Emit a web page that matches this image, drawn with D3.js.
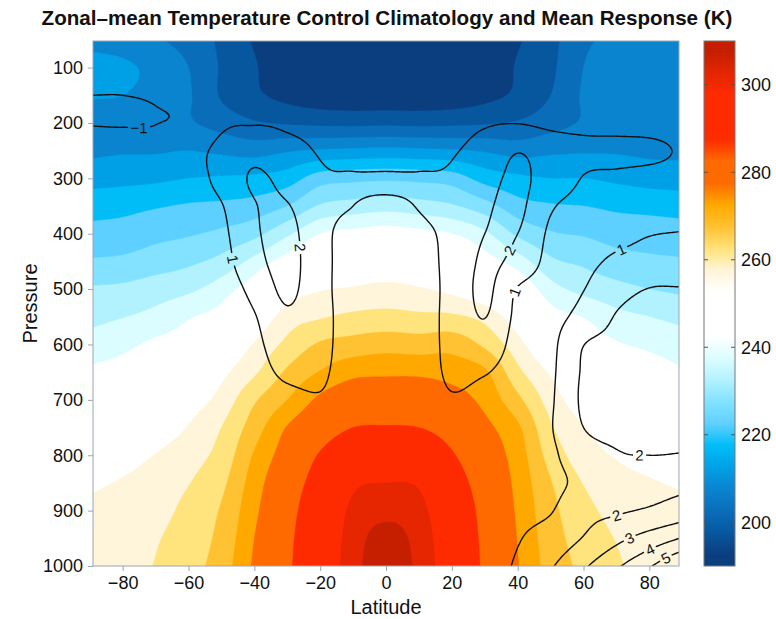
<!DOCTYPE html>
<html>
<head>
<meta charset="utf-8">
<script src="https://cdn.jsdelivr.net/npm/d3@7"></script>
<style>
  body { margin: 0; background: #fff; }
  text { font-family: "Liberation Sans", Arial, Helvetica, sans-serif; fill: #111; }
</style>
</head>
<body>
<svg id="chart" width="776" height="619"></svg>
<script>
// ---------------------------------------------------------------
// Grid coordinates of the zonal-mean fields
// ---------------------------------------------------------------
const latitudes = [-90, -80, -70, -60, -50, -40, -30, -20, -10, 0, 10, 20, 30, 40, 50, 60, 70, 80, 90];
const pressureLevels = [50, 100, 150, 200, 250, 300, 350, 400, 450, 500, 550, 600, 650, 700, 750, 800, 850, 900, 950, 1000];

// Control climatology temperature (K); one column per latitude, top (50 hPa) to bottom (1000 hPa)
const temperatureByLatitude = [
  [207.5, 212.5, 210.5, 207, 209, 213, 218, 221.5, 225.5, 230.5, 233.5, 237, 241, 244, 247.5, 251, 254, 256, 257, 257.5],
  [207, 211, 210, 207, 209.5, 213.5, 218.5, 222, 226, 231, 234.8, 238.8, 242, 245.5, 249, 252.5, 255.5, 257, 258, 258.5],
  [205.5, 208.5, 208, 206.5, 209.5, 214, 219.5, 223.5, 227.5, 232.5, 236.5, 241, 244, 247.5, 251.5, 255.2, 257.5, 258.5, 259.6, 260.2],
  [203, 205, 205.5, 205.5, 210, 215, 220.5, 224.5, 229, 234, 239.5, 243, 247, 252, 255.3, 258, 259.8, 261.3, 262.3, 263],
  [199, 199.5, 199.5, 203, 209, 215.5, 221, 226, 231.5, 237.5, 242.5, 249, 253.5, 256.8, 260, 261.8, 263.8, 265.5, 266.5, 267.5],
  [194.5, 195.5, 196, 200.5, 208, 216, 222, 228.5, 236.5, 243.5, 250, 255.4, 259.2, 264.3, 267.5, 270.5, 272.5, 273.8, 275, 275.8],
  [192.5, 191, 193.5, 199.5, 209.5, 217.5, 225, 234, 242.5, 251.5, 257.3, 261.3, 265.8, 270, 275.3, 278, 280.5, 282, 283, 283.5],
  [191.5, 190, 192, 199, 210.5, 222.5, 230.5, 240, 247.5, 254.5, 259.5, 265.6, 270.3, 276.2, 280.5, 285.7, 289, 291.5, 293, 294],
  [191, 189.5, 191.5, 198.8, 211, 223.5, 232, 241.5, 249, 255.5, 261, 267, 273.5, 279.5, 285, 292.5, 298.5, 301.5, 302.8, 303.2],
  [191, 189.5, 191.5, 199, 211.5, 224, 233, 242.5, 250, 256.5, 261.5, 268, 274, 280, 285.5, 293, 300, 303.8, 306.3, 307.5],
  [191, 189.5, 191.5, 198.8, 211, 223.5, 232, 241.5, 249, 255.5, 261, 267.5, 274, 279.5, 285, 292.5, 299, 302, 303.3, 303.8],
  [191.5, 190, 192, 199, 210.5, 222.5, 230.5, 240, 247.5, 253.5, 260.8, 268, 273, 277.3, 281.5, 285.8, 289.5, 292.5, 294.2, 295],
  [192.5, 191, 193.5, 199.5, 209.5, 218, 227, 236, 242.5, 250, 258.3, 264, 270.8, 273.5, 276.5, 279, 281, 282.3, 283, 283.5],
  [194.5, 195.5, 196, 200.5, 208, 216, 222, 229, 237.5, 245, 251.5, 256.8, 261.3, 266.2, 270.8, 272.5, 273.5, 274.2, 274.8, 275.2],
  [198.5, 199, 200, 203, 209, 215, 220.5, 225.5, 231, 237, 242.5, 248.5, 254.3, 257.8, 260.6, 263, 265.3, 266.5, 267.3, 268],
  [204, 205, 205.5, 205.5, 209.5, 215, 220, 224.5, 229, 233.5, 239.8, 243.5, 247.5, 251.5, 255.3, 257.5, 259.8, 261.5, 262.8, 263.8],
  [206, 207.5, 207.5, 207, 209.5, 214, 219, 223, 227, 231.5, 236.5, 240.5, 244.5, 248, 251.5, 254.5, 257, 258.5, 259.8, 260.5],
  [207, 208, 208, 207.5, 209, 213, 218.5, 222.5, 226, 230, 235, 239, 242.5, 245.5, 249, 252.5, 255.5, 257, 258.3, 259],
  [207.5, 208, 208, 208, 209, 212.5, 218, 222, 225.5, 229, 233.5, 237.5, 240.5, 244, 247.5, 251, 254.3, 256, 257, 258]
];

// Mean temperature response (K); same layout as the climatology
const responseByLatitude = [
  [-0.2, -0.5, -1.0, -1.03, -0.55, -0.2, 0.0, 0.15, 0.25, 0.3, 0.35, 0.4, 0.4, 0.4, 0.4, 0.45, 0.5, 0.5, 0.5, 0.5],
  [-0.2, -0.5, -1.0, -1.05, -0.55, -0.15, 0.05, 0.2, 0.3, 0.35, 0.4, 0.4, 0.4, 0.4, 0.4, 0.45, 0.5, 0.5, 0.5, 0.5],
  [-0.2, -0.45, -0.9, -1.02, -0.45, 0.0, 0.2, 0.3, 0.35, 0.4, 0.4, 0.4, 0.4, 0.4, 0.4, 0.45, 0.5, 0.5, 0.5, 0.5],
  [-0.1, -0.3, -0.6, -0.7, 0.35, 0.5, 0.45, 0.5, 0.5, 0.5, 0.5, 0.5, 0.5, 0.5, 0.5, 0.5, 0.5, 0.5, 0.5, 0.5],
  [0.0, 0.1, 0.3, 0.75, 1.35, 1.3, 0.95, 0.8, 0.7, 0.6, 0.6, 0.55, 0.5, 0.5, 0.5, 0.5, 0.5, 0.5, 0.5, 0.5],
  [0.2, 0.4, 0.7, 0.95, 1.7, 2.1, 1.95, 1.85, 1.65, 1.25, 0.95, 0.8, 0.7, 0.6, 0.55, 0.5, 0.5, 0.5, 0.5, 0.5],
  [0.3, 0.5, 0.8, 0.9, 1.25, 1.7, 2.05, 2.3, 2.35, 2.2, 1.85, 1.5, 1.15, 0.8, 0.6, 0.5, 0.5, 0.5, 0.5, 0.5],
  [0.3, 0.5, 0.7, 0.85, 0.95, 1.1, 1.2, 1.2, 1.25, 1.25, 1.25, 1.2, 1.1, 0.95, 0.75, 0.6, 0.5, 0.5, 0.5, 0.5],
  [0.3, 0.45, 0.6, 0.7, 0.82, 1.04, 1.0, 0.85, 0.75, 0.7, 0.7, 0.7, 0.7, 0.7, 0.65, 0.6, 0.55, 0.5, 0.5, 0.5],
  [0.3, 0.45, 0.6, 0.7, 0.8, 1.04, 0.94, 0.8, 0.75, 0.7, 0.7, 0.7, 0.7, 0.7, 0.65, 0.6, 0.55, 0.5, 0.5, 0.5],
  [0.3, 0.45, 0.6, 0.7, 0.82, 1.04, 1.02, 0.88, 0.75, 0.7, 0.7, 0.7, 0.7, 0.7, 0.65, 0.6, 0.55, 0.5, 0.5, 0.5],
  [0.3, 0.5, 0.7, 0.85, 0.95, 1.1, 1.25, 1.2, 1.25, 1.25, 1.25, 1.2, 1.1, 0.95, 0.75, 0.6, 0.55, 0.5, 0.5, 0.55],
  [0.3, 0.5, 0.8, 0.95, 1.25, 1.6, 1.85, 2.0, 2.15, 2.2, 2.02, 1.6, 1.05, 0.8, 0.65, 0.6, 0.6, 0.65, 0.7, 0.75],
  [0.3, 0.5, 0.8, 0.98, 1.95, 2.2, 2.2, 2.0, 1.7, 0.95, 0.8, 0.7, 0.65, 0.65, 0.65, 0.7, 0.75, 0.8, 0.95, 1.1],
  [0.2, 0.4, 0.7, 0.85, 1.45, 1.5, 1.1, 0.85, 0.75, 0.7, 0.75, 0.8, 0.85, 0.9, 0.95, 0.85, 0.8, 0.95, 1.4, 1.9],
  [0.1, 0.3, 0.6, 0.8, 1.2, 0.97, 0.8, 0.7, 0.8, 0.98, 1.3, 1.98, 2.1, 2.15, 2.0, 1.6, 1.25, 1.7, 2.05, 2.85],
  [0.0, 0.2, 0.5, 0.8, 1.15, 0.9, 0.75, 0.8, 1.15, 1.7, 2.05, 2.2, 2.3, 2.3, 2.2, 1.95, 1.8, 1.9, 2.75, 3.85],
  [0.0, 0.2, 0.5, 0.8, 1.1, 0.85, 0.7, 0.97, 1.35, 2.02, 2.15, 2.25, 2.3, 2.3, 2.25, 2.0, 1.8, 2.1, 3.4, 4.9],
  [0.0, 0.2, 0.5, 0.8, 0.95, 0.85, 0.8, 1.03, 1.5, 2.03, 2.15, 2.25, 2.3, 2.3, 2.25, 1.98, 1.85, 2.45, 4.05, 6.2]
];

// Shading levels (K) and the fill used above each one
const temperatureLevels = [195, 200, 205, 210, 215, 220, 225, 230, 235, 240, 245, 250, 255, 260, 265, 270, 275, 280, 285, 290, 295, 300, 305];
const temperatureColors = [
  "#0b3e7f", "#07579f", "#0a6db9", "#0a84cf", "#00a0e6", "#00bdf7",
  "#5ed0ff", "#82e2ff", "#b2f2ff", "#dcfdff", "#ffffff", "#ffffff",
  "#ffffff", "#fff5da", "#ffe37c", "#ffc232", "#ffa900", "#ff6a00",
  "#ff6a00", "#ff2b00", "#ff2b00", "#ff2b00", "#e52600", "#c51f00"
];
const colorbarRange = [190, 310];
const colorbarTicks = [200, 220, 240, 260, 280, 300];

// Response isolines and where their labels sit (level, latitude, pressure)
const responseLevels = [-1, 1, 2, 3, 4, 5];
const responseLabelSpots = [
  [-1, -75, 205], [1, -45, 444], [2, -30, 426], [2, 37, 426], [1, 39, 502],
  [1, 71, 422], [2, 77, 796], [2, 70.5, 920], [3, 74, 950], [4, 79.6, 962], [5, 84, 977]
];

const latitudeTicks = [-80, -60, -40, -20, 0, 20, 40, 60, 80];
const pressureTicks = [100, 200, 300, 400, 500, 600, 700, 800, 900, 1000];

// ---------------------------------------------------------------
// Layout
// ---------------------------------------------------------------
const svg = d3.select("#chart");
const plot = { left: 93, right: 679, top: 41, bottom: 566 };
const bar = { left: 704, right: 735 };

const x = d3.scaleLinear().domain([-89, 89]).range([plot.left, plot.right]);
const y = d3.scaleLinear().domain([52, 1000]).range([plot.top, plot.bottom]);
const yBar = d3.scaleLinear().domain(colorbarRange).range([plot.bottom, plot.top]);

// ---------------------------------------------------------------
// Smooth resampling of a coarse grid (Catmull-Rom in both directions)
// ---------------------------------------------------------------
function cubic(p0, p1, p2, p3, t) {
  return 0.5 * (2 * p1 + (-p0 + p2) * t + (2 * p0 - 5 * p1 + 4 * p2 - p3) * t * t + (-p0 + 3 * p1 - 3 * p2 + p3) * t * t * t);
}
function pick(arr, k) {
  const n = arr.length;
  if (k < 0) return 2 * arr[0] - arr[1];
  if (k > n - 1) return 2 * arr[n - 1] - arr[n - 2];
  return arr[k];
}
const fineLat = d3.range(-90, 90.001, 0.5);
const finePres = d3.range(50, 1000.001, 5);
const nx = fineLat.length, ny = finePres.length;

function resample(columns) {
  const dp = pressureLevels[1] - pressureLevels[0];
  const dl = latitudes[1] - latitudes[0];
  const colFine = columns.map(col => finePres.map(p => {
    const f = (p - pressureLevels[0]) / dp;
    const k = Math.min(Math.floor(f), pressureLevels.length - 2);
    const t = f - k;
    return cubic(pick(col, k - 1), pick(col, k), pick(col, k + 1), pick(col, k + 2), t);
  }));
  const out = new Float64Array(nx * ny);
  for (let j = 0; j < ny; j++) {
    const row = colFine.map(c => c[j]);
    for (let i = 0; i < nx; i++) {
      const f = (fineLat[i] - latitudes[0]) / dl;
      const k = Math.min(Math.floor(f), latitudes.length - 2);
      const t = f - k;
      out[j * nx + i] = cubic(pick(row, k - 1), pick(row, k), pick(row, k + 1), pick(row, k + 2), t);
    }
  }
  return out;
}

const tempGrid = resample(temperatureByLatitude);
const respGrid = resample(responseByLatitude);

// grid coordinates from d3.contours -> pixels
const gx = v => x(fineLat[0] + (v - 0.5) * (fineLat[1] - fineLat[0]));
const gy = v => y(finePres[0] + (v - 0.5) * (finePres[1] - finePres[0]));
const gridPath = d3.geoPath(d3.geoTransform({
  point(a, b) { this.stream.point(gx(a), gy(b)); }
}));

// ---------------------------------------------------------------
// Filled temperature climatology
// ---------------------------------------------------------------
const defs = svg.append("defs");
defs.append("clipPath").attr("id", "plot-clip")
  .append("rect")
  .attr("x", plot.left).attr("y", plot.top)
  .attr("width", plot.right - plot.left).attr("height", plot.bottom - plot.top);

const fills = svg.append("g").attr("clip-path", "url(#plot-clip)");
fills.append("rect")
  .attr("x", plot.left).attr("y", plot.top)
  .attr("width", plot.right - plot.left).attr("height", plot.bottom - plot.top)
  .attr("fill", temperatureColors[0]);

const bands = d3.contours().size([nx, ny]).thresholds(temperatureLevels)(tempGrid);
fills.selectAll("path.band")
  .data(bands)
  .join("path")
  .attr("class", "band")
  .attr("d", gridPath)
  .attr("fill", (d, i) => temperatureColors[i + 1])
  .attr("stroke", (d, i) => temperatureColors[i + 1])
  .attr("stroke-width", 0.4);

// ---------------------------------------------------------------
// Response isolines (open lines, boundary segments removed)
// ---------------------------------------------------------------
function isolines(values, level) {
  const shape = d3.contours().size([nx, ny]).thresholds([level])(values)[0];
  const onEdge = (a, b) =>
    (a[0] <= 0 && b[0] <= 0) || (a[0] >= nx && b[0] >= nx) ||
    (a[1] <= 0 && b[1] <= 0) || (a[1] >= ny && b[1] >= ny);
  const lines = [];
  shape.coordinates.forEach(poly => poly.forEach(ring => {
    const pts = ring.slice(0, -1);
    const n = pts.length;
    let start = -1;
    for (let i = 0; i < n; i++) {
      if (onEdge(pts[i], pts[(i + 1) % n])) { start = i; break; }
    }
    if (start < 0) { lines.push(ring.map(p => [gx(p[0]), gy(p[1])])); return; }
    let cur = [];
    for (let s = 1; s <= n; s++) {
      const a = pts[(start + s) % n], b = pts[(start + s + 1) % n];
      if (onEdge(a, b)) {
        if (cur.length > 1) lines.push(cur);
        cur = [];
      } else {
        if (!cur.length) cur.push([gx(a[0]), gy(a[1])]);
        cur.push([gx(b[0]), gy(b[1])]);
      }
    }
    if (cur.length > 1) lines.push(cur);
  }));
  return lines;
}

const linesByLevel = new Map(responseLevels.map(l => [l, isolines(respGrid, l)]));

// label placement: snap each spot to the nearest vertex of its isoline
const fmtLevel = d3.format("d");
const labels = responseLabelSpots.map(([level, lat, p]) => {
  const px = x(lat), py = y(p);
  let best = null, bestD = Infinity;
  linesByLevel.get(level).forEach(line => line.forEach((pt, i) => {
    const d = (pt[0] - px) ** 2 + (pt[1] - py) ** 2;
    if (d < bestD) { bestD = d; best = { line, i }; }
  }));
  const { line, i } = best;
  const a = line[Math.max(0, i - 4)], b = line[Math.min(line.length - 1, i + 4)];
  let angle = Math.atan2(b[1] - a[1], b[0] - a[0]) * 180 / Math.PI;
  if (angle > 90) angle -= 180;
  if (angle < -90) angle += 180;
  return { text: fmtLevel(level), x: line[i][0], y: line[i][1], angle };
});

const gapMask = defs.append("mask").attr("id", "label-gaps")
  .attr("maskUnits", "userSpaceOnUse")
  .attr("x", 0).attr("y", 0).attr("width", 776).attr("height", 619);
gapMask.append("rect").attr("width", 776).attr("height", 619).attr("fill", "#fff");
labels.forEach(l => {
  const w = l.text.length * 9 + 4;
  gapMask.append("rect")
    .attr("x", -w / 2).attr("y", -8).attr("width", w).attr("height", 16)
    .attr("transform", `translate(${l.x},${l.y}) rotate(${l.angle})`)
    .attr("fill", "#000");
});

const lineGen = d3.line().curve(d3.curveLinear);
const lineLayer = svg.append("g").attr("clip-path", "url(#plot-clip)");
lineLayer.append("g").attr("mask", "url(#label-gaps)")
  .selectAll("path")
  .data(responseLevels.flatMap(l => linesByLevel.get(l)))
  .join("path")
  .attr("d", lineGen)
  .attr("fill", "none")
  .attr("stroke", "#111")
  .attr("stroke-width", 1.4)
  .attr("stroke-linejoin", "round");

lineLayer.selectAll("text.lab")
  .data(labels)
  .join("text")
  .attr("class", "lab")
  .attr("transform", d => `translate(${d.x},${d.y}) rotate(${d.angle})`)
  .attr("text-anchor", "middle")
  .attr("dy", "0.36em")
  .attr("font-size", 15)
  .text(d => d.text);

// ---------------------------------------------------------------
// Frame and axes
// ---------------------------------------------------------------
const frameColor = "#9aa6b2";
svg.append("rect")
  .attr("x", plot.left).attr("y", plot.top)
  .attr("width", plot.right - plot.left).attr("height", plot.bottom - plot.top)
  .attr("fill", "none").attr("stroke", frameColor).attr("stroke-width", 1);

const xAxis = svg.append("g").attr("transform", `translate(0,${plot.bottom})`)
  .call(d3.axisBottom(x).tickValues(latitudeTicks).tickSize(5).tickPadding(5));
const yAxis = svg.append("g").attr("transform", `translate(${plot.left},0)`)
  .call(d3.axisLeft(y).tickValues(pressureTicks).tickFormat(d3.format("d")).tickSize(5).tickPadding(5));
[xAxis, yAxis].forEach(g => {
  g.select(".domain").remove();
  g.selectAll(".tick line").attr("stroke", frameColor);
  g.selectAll(".tick text").attr("font-size", 18).attr("fill", "#111")
    .attr("font-family", "\"Liberation Sans\", Arial, sans-serif");
});

svg.append("text")
  .attr("x", (plot.left + plot.right) / 2).attr("y", 614)
  .attr("text-anchor", "middle").attr("font-size", 20)
  .text("Latitude");
svg.append("text")
  .attr("transform", `translate(37,${(plot.top + plot.bottom) / 2}) rotate(-90)`)
  .attr("text-anchor", "middle").attr("font-size", 20)
  .text("Pressure");

svg.append("text")
  .attr("x", 387).attr("y", 25)
  .attr("text-anchor", "middle").attr("font-size", 20.6).attr("font-weight", "bold")
  .text("Zonal\u2013mean Temperature Control Climatology and Mean Response (K)");

// ---------------------------------------------------------------
// Colour bar: a vertical gradient through the band colours
// ---------------------------------------------------------------
const barEdges = [colorbarRange[0], ...temperatureLevels, colorbarRange[1]];
const grad = defs.append("linearGradient").attr("id", "bar-grad")
  .attr("gradientUnits", "userSpaceOnUse")
  .attr("x1", 0).attr("x2", 0).attr("y1", plot.bottom).attr("y2", plot.top);
d3.pairs(barEdges).forEach((d, i) => {
  grad.append("stop")
    .attr("offset", (((d[0] + d[1]) / 2 - colorbarRange[0]) / (colorbarRange[1] - colorbarRange[0])).toFixed(4))
    .attr("stop-color", temperatureColors[i]);
});
const barG = svg.append("g");
barG.append("rect")
  .attr("x", bar.left).attr("y", plot.top)
  .attr("width", bar.right - bar.left).attr("height", plot.bottom - plot.top)
  .attr("fill", "url(#bar-grad)").attr("stroke", "#777").attr("stroke-width", 1);
colorbarTicks.forEach(v => {
  barG.append("line").attr("x1", bar.left).attr("x2", bar.left + 4)
    .attr("y1", yBar(v)).attr("y2", yBar(v)).attr("stroke", "#555");
  barG.append("line").attr("x1", bar.right - 4).attr("x2", bar.right)
    .attr("y1", yBar(v)).attr("y2", yBar(v)).attr("stroke", "#555");
  barG.append("text").attr("x", bar.right + 6).attr("y", yBar(v))
    .attr("dy", "0.36em").attr("font-size", 18).text(v);
});
</script>
</body>
</html>
